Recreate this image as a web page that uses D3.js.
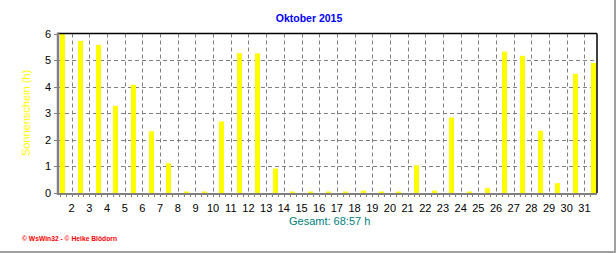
<!DOCTYPE html>
<html><head><meta charset="utf-8">
<script src="https://cdn.jsdelivr.net/npm/d3@7"></script>
<style>body{margin:0;background:#fff;}svg{display:block;}</style>
</head><body>
<svg id="c" width="616" height="253"></svg>
<script>
const days = d3.range(1, 32);
const sunHours = [6.0, 5.72, 5.57, 3.28, 4.07, 2.32, 1.12, 0.03, 0.03, 2.69,
  5.26, 5.25, 0.92, 0.03, 0.03, 0.03, 0.03, 0.09, 0.03, 0.03,
  1.04, 0.09, 2.84, 0.03, 0.18, 5.32, 5.16, 2.34, 0.37, 4.48, 4.89];
const xTickLabels = d3.range(2, 32);
const yTicks = [0, 1, 2, 3, 4, 5, 6];
const title = "Oktober 2015";
const yTitle = "Sonnenschein  (h)";
const total = "Gesamt: 68:57 h";
const footer = "\u00A9 WsWin32  -  \u00A9 Heike Blödorn";

const svg = d3.select("#c");
const L = 58, R = 597, T = 33.5, B = 193;
const x = d3.scaleLinear().domain([1, 32]).range([54, 602.1]);
const y = d3.scaleLinear().domain([0, 6]).range([B, T]);
const slot = x(2) - x(1);
const bw = 5;
const font = "'Liberation Sans', Arial, sans-serif";

svg.append("defs").append("clipPath").attr("id", "pc")
  .append("rect").attr("x", L).attr("y", T - 1).attr("width", R - L).attr("height", B - T + 1);

// border frame
svg.append("line").attr("x1", 0).attr("x2", 616).attr("y1", 252).attr("y2", 252)
  .attr("stroke", "#a0a0a0").attr("stroke-width", 2);
svg.append("line").attr("x1", 615).attr("x2", 615).attr("y1", 0).attr("y2", 253)
  .attr("stroke", "#a0a0a0").attr("stroke-width", 2);

const g = svg.append("g").attr("clip-path", "url(#pc)");
// grid
g.selectAll("line.hg").data(yTicks.filter(d => d > 0 && d < 6)).enter().append("line")
  .attr("x1", L).attr("x2", R).attr("y1", d => Math.round(y(d)) + 0.5).attr("y2", d => Math.round(y(d)) + 0.5)
  .attr("stroke", "#808080").attr("stroke-dasharray", "4,3");
g.selectAll("line.vg").data(xTickLabels).enter().append("line")
  .attr("x1", d => Math.round(x(d)) + 0.5).attr("x2", d => Math.round(x(d)) + 0.5)
  .attr("y1", T).attr("y2", B)
  .attr("stroke", "#808080").attr("stroke-dasharray", "4,3");

// bars
g.selectAll("rect.bar").data(days).enter().append("rect")
  .attr("x", d => Math.round(x(d) + (slot - bw) / 2))
  .attr("width", bw)
  .attr("y", (d, i) => Math.min(y(sunHours[i]), B - 1.5))
  .attr("height", (d, i) => Math.max(B - y(sunHours[i]), 1.5))
  .attr("fill", "#ffff00");

// frame top/right
svg.append("line").attr("x1", L).attr("x2", R).attr("y1", T).attr("y2", T).attr("stroke", "#000").attr("stroke-width", 1.5);
svg.append("line").attr("x1", R).attr("x2", R).attr("y1", T).attr("y2", B).attr("stroke", "#000").attr("stroke-width", 1.5);

// minor x ticks
const minor = d3.range(1, 32.01, 1 / 3).filter(v => x(v) > L + 1 && x(v) < R - 1);
svg.selectAll("line.mt").data(minor).enter().append("line")
  .attr("x1", d => Math.round(x(d)) + 0.5).attr("x2", d => Math.round(x(d)) + 0.5)
  .attr("y1", B).attr("y2", B + 4).attr("stroke", "#808080");
// y ticks
svg.selectAll("line.yt").data(yTicks).enter().append("line")
  .attr("x1", L - 4).attr("x2", L).attr("y1", d => Math.round(y(d)) + 0.5).attr("y2", d => Math.round(y(d)) + 0.5)
  .attr("stroke", "#808080");

// axes lines (gray)
svg.append("line").attr("x1", L).attr("x2", L).attr("y1", T - 1).attr("y2", B + 2).attr("stroke", "#808080").attr("stroke-width", 2.5);
svg.append("line").attr("x1", L - 1).attr("x2", R).attr("y1", B + 1).attr("y2", B + 1).attr("stroke", "#808080").attr("stroke-width", 2);

// y labels
svg.selectAll("text.yl").data(yTicks).enter().append("text")
  .attr("x", 51).attr("y", d => y(d) + 4).attr("text-anchor", "end")
  .attr("font-family", font).attr("font-size", 11).attr("fill", "#000").text(d => d);
// x labels
svg.selectAll("text.xl").data(xTickLabels).enter().append("text")
  .attr("x", d => x(d)).attr("y", 212).attr("text-anchor", "middle")
  .attr("font-family", font).attr("font-size", 11).attr("fill", "#000").text(d => d);

svg.append("text").attr("x", 309).attr("y", 22).attr("text-anchor", "middle")
  .attr("font-family", font).attr("font-weight", "bold").attr("font-size", 10.5).attr("fill", "#0000ff").text(title);
svg.append("text").attr("transform", "translate(30,113) rotate(-90)").attr("text-anchor", "middle")
  .attr("font-family", font).attr("font-size", 11).attr("fill", "#ffff00").text(yTitle);
svg.append("text").attr("x", 289).attr("y", 225)
  .attr("font-family", font).attr("font-size", 11).attr("fill", "#008080").text(total);
svg.append("text").attr("x", 22).attr("y", 241).attr("textLength", 95).attr("lengthAdjust", "spacingAndGlyphs")
  .attr("font-family", font).attr("font-weight", "bold").attr("font-size", 7).attr("fill", "#ff0000").text(footer);
</script>
</body></html>
